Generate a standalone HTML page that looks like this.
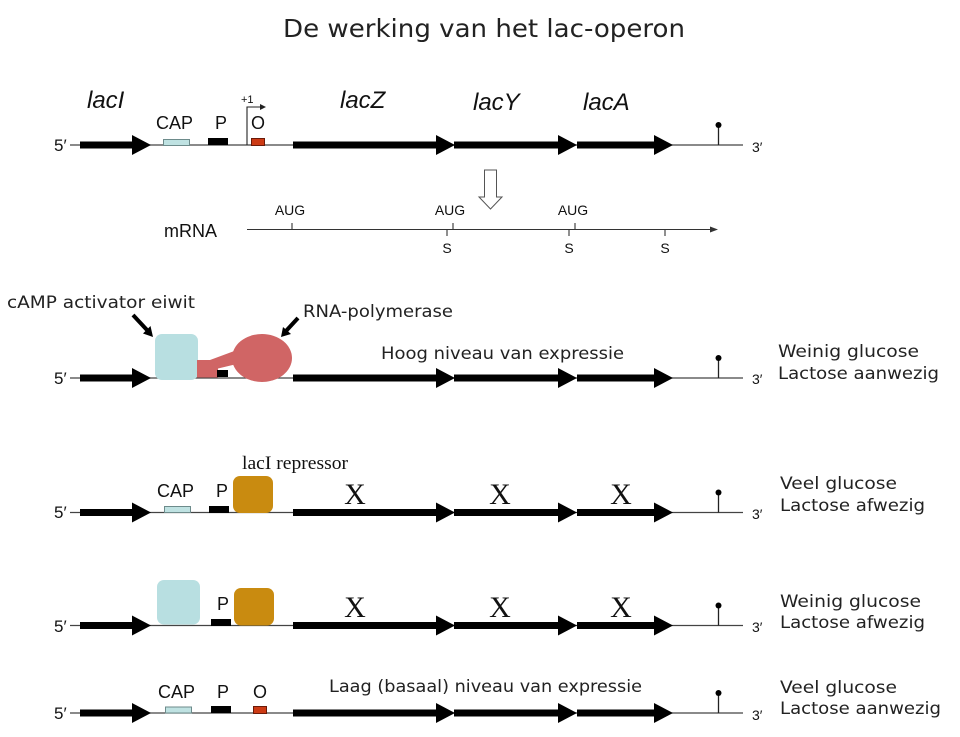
<!DOCTYPE html>
<html><head><meta charset="utf-8">
<style>
html,body{margin:0;padding:0;background:#fff;}
svg{display:block;}
.h{font-family:"DejaVu Sans","Liberation Sans",sans-serif;fill:#222;}
.a{font-family:"Liberation Sans",Arial,sans-serif;fill:#111;}
.s{font-family:"Liberation Serif","Times New Roman",serif;fill:#111;}
</style></head>
<body>
<svg width="960" height="737" viewBox="0 0 960 737" xmlns="http://www.w3.org/2000/svg">
<defs>
<g id="dna">
  <line x1="70" y1="0" x2="743" y2="0" stroke="#444" stroke-width="1.2"/>
  <rect x="80" y="-3.5" width="53" height="7" fill="#000"/>
  <polygon points="132,-10 151,0 132,10" fill="#000"/>
  <rect x="293" y="-3.5" width="144" height="7" fill="#000"/>
  <polygon points="436,-10 455,0 436,10" fill="#000"/>
  <rect x="454" y="-3.5" width="105" height="7" fill="#000"/>
  <polygon points="558,-10 577,0 558,10" fill="#000"/>
  <rect x="577" y="-3.5" width="78" height="7" fill="#000"/>
  <polygon points="654,-10 673,0 654,10" fill="#000"/>
  <line x1="718.5" y1="0" x2="718.5" y2="-20" stroke="#222" stroke-width="1.3"/>
  <circle cx="718.5" cy="-20" r="3" fill="#000"/>
</g>
</defs>

<!-- Title -->
<text class="h" x="283" y="37" font-size="25" textLength="402" lengthAdjust="spacingAndGlyphs">De werking van het lac-operon</text>

<!-- Row 1 -->
<use href="#dna" y="145"/>
<text class="a" x="54" y="151" font-size="17">5′</text>
<text class="a" x="752" y="152" font-size="14">3′</text>
<text class="a" x="87" y="108" font-size="24" font-style="italic">lacI</text>
<text class="a" x="340" y="108" font-size="24" font-style="italic">lacZ</text>
<text class="a" x="473" y="110" font-size="24" font-style="italic">lacY</text>
<text class="a" x="583" y="110" font-size="24" font-style="italic">lacA</text>
<text class="a" x="156" y="129" font-size="18">CAP</text>
<text class="a" x="215" y="129" font-size="18">P</text>
<text class="a" x="251" y="129" font-size="18">O</text>
<rect x="163.5" y="139.5" width="26" height="6" fill="#bfe2e2" stroke="#6d8b8b" stroke-width="1"/>
<rect x="208" y="138" width="20" height="7" fill="#000"/>
<rect x="251.5" y="138.5" width="13" height="7" fill="#cc3a14" stroke="#6a1a08" stroke-width="1"/>
<text class="a" x="241" y="103" font-size="11">+1</text>
<polyline points="247,145 247,107 261,107" fill="none" stroke="#222" stroke-width="1.1"/>
<polygon points="260,104 266,107 260,110" fill="#222"/>

<!-- hollow arrow -->
<polygon points="484.5,170 496.5,170 496.5,197 502,197 490.5,209 479,197 484.5,197" fill="#fff" stroke="#555" stroke-width="1"/>

<!-- mRNA -->
<text class="a" x="164" y="237" font-size="18">mRNA</text>
<line x1="247" y1="229.5" x2="714" y2="229.5" stroke="#333" stroke-width="1.1"/>
<polygon points="710,226.5 718,229.5 710,232.5" fill="#333"/>
<g stroke="#333" stroke-width="1.1">
<line x1="292" y1="223" x2="292" y2="229.5"/>
<line x1="453" y1="223" x2="453" y2="229.5"/>
<line x1="575" y1="223" x2="575" y2="229.5"/>
<line x1="447" y1="229.5" x2="447" y2="236"/>
<line x1="569" y1="229.5" x2="569" y2="236"/>
<line x1="665" y1="229.5" x2="665" y2="236"/>
</g>
<g class="a" font-size="14" text-anchor="middle">
<text x="290" y="215">AUG</text>
<text x="450" y="215">AUG</text>
<text x="573" y="215">AUG</text>
<text x="447" y="253">S</text>
<text x="569" y="253">S</text>
<text x="665" y="253">S</text>
</g>

<!-- Row 2 -->
<use href="#dna" y="378"/>
<text class="a" x="54" y="384" font-size="17">5′</text>
<text class="a" x="752" y="384" font-size="14">3′</text>
<text class="h" x="7" y="308" font-size="17" textLength="188" lengthAdjust="spacingAndGlyphs">cAMP activator eiwit</text>
<text class="h" x="303" y="317" font-size="17" textLength="150" lengthAdjust="spacingAndGlyphs">RNA-polymerase</text>
<text class="h" x="381" y="359" font-size="17" textLength="243" lengthAdjust="spacingAndGlyphs">Hoog niveau van expressie</text>
<text class="h" x="778" y="357" font-size="17" textLength="141" lengthAdjust="spacingAndGlyphs">Weinig glucose</text>
<text class="h" x="778" y="379" font-size="17" textLength="161" lengthAdjust="spacingAndGlyphs">Lactose aanwezig</text>
<rect x="155" y="334" width="43" height="46" rx="7" fill="#b8dfe1"/>
<rect x="197" y="360" width="21" height="17.5" fill="#d06565"/>
<polygon points="210,360 237,350 241,363 216,369" fill="#d06565"/>
<ellipse cx="262" cy="358" rx="30" ry="24" fill="#d06565"/>
<rect x="217" y="370" width="11" height="7" fill="#000"/>
<line x1="133" y1="315" x2="147" y2="330" stroke="#000" stroke-width="4"/>
<polygon points="143,333.5 150.5,326 153,337" fill="#000"/>
<line x1="298" y1="318" x2="286" y2="331" stroke="#000" stroke-width="4"/>
<polygon points="291,334 283,327 281,337" fill="#000"/>

<!-- Row 3 -->
<use href="#dna" y="512.5"/>
<text class="a" x="54" y="518" font-size="17">5′</text>
<text class="a" x="752" y="519" font-size="14">3′</text>
<text class="a" x="157" y="497" font-size="18">CAP</text>
<text class="a" x="216" y="497" font-size="18">P</text>
<rect x="164.5" y="506.5" width="26" height="6" fill="#bfe2e2" stroke="#6d8b8b" stroke-width="1"/>
<rect x="209" y="506" width="20" height="7" fill="#000"/>
<rect x="233" y="476" width="40" height="37" rx="7" fill="#c98b10"/>
<text class="s" x="242" y="469" font-size="19" textLength="106" lengthAdjust="spacingAndGlyphs">lacI repressor</text>
<g class="s" font-size="30" text-anchor="middle">
<text x="355" y="504">X</text>
<text x="500" y="504">X</text>
<text x="621" y="504">X</text>
</g>
<text class="h" x="780" y="489" font-size="17" textLength="117" lengthAdjust="spacingAndGlyphs">Veel glucose</text>
<text class="h" x="780" y="511" font-size="17" textLength="145" lengthAdjust="spacingAndGlyphs">Lactose afwezig</text>

<!-- Row 4 -->
<use href="#dna" y="625.5"/>
<text class="a" x="54" y="632" font-size="17">5′</text>
<text class="a" x="752" y="632" font-size="14">3′</text>
<rect x="157" y="580" width="43" height="44.5" rx="7" fill="#b8dfe1"/>
<text class="a" x="217" y="610" font-size="18">P</text>
<rect x="211" y="619" width="20" height="7" fill="#000"/>
<rect x="234" y="588" width="40" height="37.5" rx="7" fill="#c98b10"/>
<g class="s" font-size="30" text-anchor="middle">
<text x="355" y="617">X</text>
<text x="500" y="617">X</text>
<text x="621" y="617">X</text>
</g>
<text class="h" x="780" y="607" font-size="17" textLength="141" lengthAdjust="spacingAndGlyphs">Weinig glucose</text>
<text class="h" x="780" y="628" font-size="17" textLength="145" lengthAdjust="spacingAndGlyphs">Lactose afwezig</text>

<!-- Row 5 -->
<use href="#dna" y="713"/>
<text class="a" x="54" y="719" font-size="17">5′</text>
<text class="a" x="752" y="720" font-size="14">3′</text>
<text class="a" x="158" y="698" font-size="18">CAP</text>
<text class="a" x="217" y="698" font-size="18">P</text>
<text class="a" x="253" y="698" font-size="18">O</text>
<rect x="165.5" y="707" width="26" height="6" fill="#bfe2e2" stroke="#6d8b8b" stroke-width="1"/>
<rect x="211" y="706" width="20" height="7" fill="#000"/>
<rect x="253.5" y="706.5" width="13" height="7" fill="#cc3a14" stroke="#6a1a08" stroke-width="1"/>
<text class="h" x="329" y="692" font-size="17" textLength="313" lengthAdjust="spacingAndGlyphs">Laag (basaal) niveau van expressie</text>
<text class="h" x="780" y="693" font-size="17" textLength="117" lengthAdjust="spacingAndGlyphs">Veel glucose</text>
<text class="h" x="780" y="714" font-size="17" textLength="161" lengthAdjust="spacingAndGlyphs">Lactose aanwezig</text>
</svg>
</body></html>
